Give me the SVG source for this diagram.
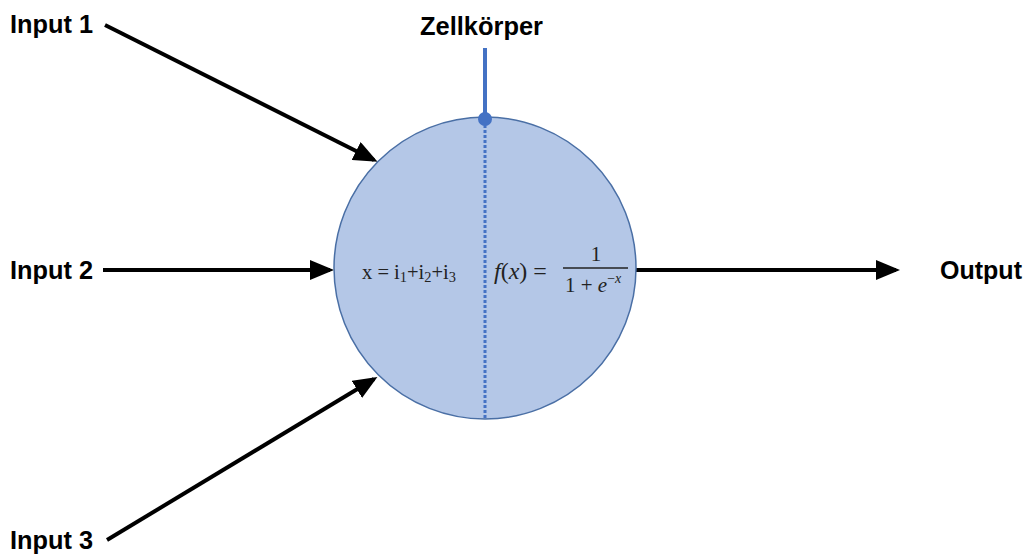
<svg xmlns="http://www.w3.org/2000/svg" width="1030" height="556" viewBox="0 0 1030 556">
<defs>
<style>
.lbl{font-family:"Liberation Sans",Arial,sans-serif;font-weight:bold;font-size:25px;fill:#000}
.math{font-family:"Liberation Serif","Times New Roman",serif;fill:#222}
.arrow{stroke:#000;stroke-width:4;fill:none;marker-end:url(#ah)}
</style>
<marker id="ah" markerWidth="6" markerHeight="5" refX="5" refY="2.5" orient="auto" markerUnits="strokeWidth">
<path d="M0,0 L6,2.5 L0,5 Z" fill="#000"/>
</marker>
</defs>
<rect width="1030" height="556" fill="#fff"/>
<g id="connectors">
<line class="arrow" x1="105" y1="25" x2="374" y2="160"/>
<line class="arrow" x1="103" y1="270" x2="330" y2="270"/>
<line class="arrow" x1="107" y1="540" x2="374" y2="379"/>
<line class="arrow" x1="636" y1="270" x2="896" y2="270"/>
</g>
<g id="cell">
<circle cx="485" cy="268" r="151" fill="#b4c7e7" stroke="#4a6fa5" stroke-width="1.5"/>
<line x1="485" y1="120" x2="485" y2="418" stroke="#4472c4" stroke-width="3" stroke-dasharray="3,2"/>
<text class="math" x="362" y="279" font-size="20" textLength="94" lengthAdjust="spacingAndGlyphs">x = i<tspan font-size="14" dy="3">1</tspan><tspan dy="-3">+i</tspan><tspan font-size="14" dy="3">2</tspan><tspan dy="-3">+i</tspan><tspan font-size="14" dy="3">3</tspan></text>
<text class="math" x="494" y="279" font-size="24"><tspan font-style="italic">f</tspan>(<tspan font-style="italic">x</tspan>) =</text>
<line x1="563" y1="268" x2="628" y2="268" stroke="#222" stroke-width="1.4"/>
<text class="math" x="596" y="261" font-size="21" text-anchor="middle">1</text>
<text class="math" x="565" y="292" font-size="21">1 + <tspan font-style="italic">e</tspan><tspan font-size="14" dy="-9">−<tspan font-style="italic">x</tspan></tspan></text>
</g>
<g id="zellkoerper">
<line x1="485" y1="48" x2="485" y2="118" stroke="#4472c4" stroke-width="4"/>
<circle cx="485" cy="119" r="7" fill="#4472c4"/>
<text class="lbl" x="420" y="35" textLength="123" lengthAdjust="spacingAndGlyphs">Zellkörper</text>
</g>
<g id="input1"><text class="lbl" x="10" y="33" textLength="83" lengthAdjust="spacingAndGlyphs">Input 1</text></g>
<g id="input2"><text class="lbl" x="10" y="279" textLength="83" lengthAdjust="spacingAndGlyphs">Input 2</text></g>
<g id="input3"><text class="lbl" x="10" y="549" textLength="83" lengthAdjust="spacingAndGlyphs">Input 3</text></g>
<g id="output"><text class="lbl" x="940" y="279" textLength="82" lengthAdjust="spacingAndGlyphs">Output</text></g>
</svg>
